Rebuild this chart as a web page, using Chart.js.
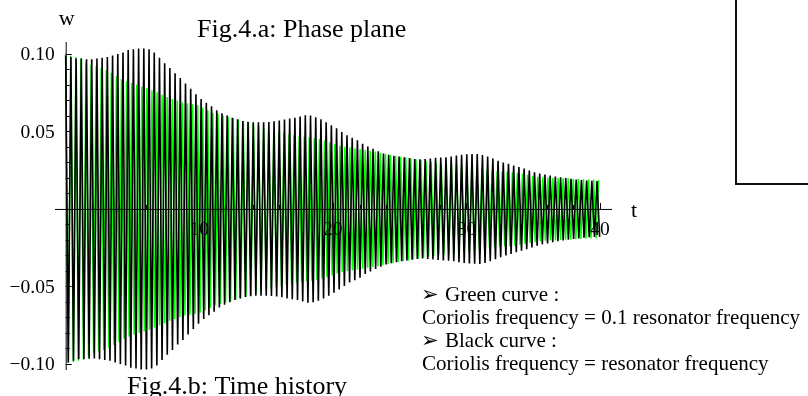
<!DOCTYPE html>
<html>
<head>
<meta charset="utf-8">
<script src="https://cdn.jsdelivr.net/npm/chart.js@4"></script>
<style>
  html, body { margin: 0; padding: 0; background: #fff; }
</style>
</head>
<body>
<canvas id="chart" width="808" height="396"></canvas>
<script>
// period of one oscillation (t units) and peak amplitude of each cycle
const blackPeriod = 0.39;
const greenPeriod = 0.38;

const blackPeaks = [
  0.099, 0.098, 0.097, 0.097, 0.0966, 0.0965, 0.097, 0.0975, 0.098, 0.099,
  0.100, 0.101, 0.1025, 0.103, 0.1035, 0.1035, 0.103, 0.101, 0.0975, 0.094,
  0.091, 0.0875, 0.0845, 0.081, 0.0775, 0.074, 0.071, 0.0685, 0.0663, 0.0636,
  0.0618, 0.0602, 0.0588, 0.0578, 0.0568, 0.0563, 0.056, 0.056, 0.056, 0.0561,
  0.0565, 0.057, 0.0577, 0.0583, 0.0588, 0.0597, 0.0605, 0.0602, 0.0592, 0.0578,
  0.056, 0.054, 0.052, 0.0497, 0.0475, 0.046, 0.0443, 0.042, 0.0403, 0.0388,
  0.0372, 0.0358, 0.035, 0.0343, 0.0338, 0.0333, 0.0328, 0.0322, 0.032, 0.0322,
  0.0326, 0.033, 0.0332, 0.0334, 0.0338, 0.0344, 0.0349, 0.0352, 0.0354, 0.0355,
  0.0348, 0.0338, 0.0325, 0.0311, 0.030, 0.0291, 0.028, 0.027, 0.026, 0.0248,
  0.0237, 0.0228, 0.0222, 0.0215, 0.0209, 0.0204, 0.0199, 0.0194, 0.019, 0.0186,
  0.0183, 0.0181, 0.018
];

const greenPeaks = [
  0.099, 0.0988, 0.098, 0.097, 0.095, 0.093, 0.092, 0.091, 0.0895, 0.0878,
  0.0858, 0.0838, 0.0824, 0.0812, 0.0801, 0.079, 0.078, 0.0766, 0.0752, 0.0737,
  0.0722, 0.071, 0.0699, 0.0688, 0.0682, 0.0676, 0.067, 0.0653, 0.0637, 0.0621,
  0.0612, 0.0603, 0.0595, 0.0586, 0.0577, 0.0568, 0.0559, 0.0546, 0.0534, 0.0521,
  0.0513, 0.0505, 0.0498, 0.049, 0.0483, 0.0476, 0.0472, 0.0467, 0.0463, 0.0458,
  0.0451, 0.0441, 0.0429, 0.0417, 0.0407, 0.0401, 0.0396, 0.039, 0.0385, 0.038,
  0.0375, 0.037, 0.0363, 0.0356, 0.0349, 0.0342, 0.0337, 0.0332, 0.0326, 0.032,
  0.0315, 0.0309, 0.0302, 0.0298, 0.0295, 0.0293, 0.029, 0.0285, 0.0279, 0.0273,
  0.0268, 0.0264, 0.0259, 0.0254, 0.0249, 0.0245, 0.0242, 0.024, 0.0237, 0.0232,
  0.0226, 0.022, 0.0214, 0.0208, 0.0205, 0.0203, 0.0201, 0.02, 0.0199, 0.0197,
  0.0195, 0.0193, 0.0192, 0.019, 0.0189, 0.0187
];

const xTickLabels = [10, 20, 30, 40];
const yTickValues = [0.10, 0.05, -0.05, -0.10];
const yTickLabels = ['0.10', '0.05', '\u22120.05', '\u22120.10'];

const T_END = 40;

function buildSeries(peaks, period) {
  const pts = [];
  peaks.forEach((a, i) => {
    const t = i * period;
    pts.push({ x: t, y: a });
    if (t + period / 2 <= T_END) pts.push({ x: t + period / 2, y: -a });
  });
  return pts;
}

const serif = '"Liberation Serif", "Times New Roman", serif';

const axesPlugin = {
  id: 'mathAxes',
  afterDatasetsDraw(chart) {
    const { ctx, chartArea: area, scales: { x, y } } = chart;
    const x0 = x.getPixelForValue(0);
    const y0 = y.getPixelForValue(0);
    ctx.save();
    ctx.strokeStyle = '#000';
    ctx.lineWidth = 1;

    // axis lines
    ctx.beginPath();
    ctx.moveTo(area.left, y0 + 0.5);
    ctx.lineTo(area.right, y0 + 0.5);
    ctx.moveTo(x0 + 0.5, area.top);
    ctx.lineTo(x0 + 0.5, area.bottom);
    ctx.stroke();

    // x ticks every 2, long ones at labels
    ctx.beginPath();
    for (let t = 2; t <= 40; t += 2) {
      const px = Math.round(x.getPixelForValue(t)) + 0.5;
      const len = t % 10 === 0 ? 6 : 4;
      ctx.moveTo(px, y0);
      ctx.lineTo(px, y0 - len);
    }
    // y ticks every 0.01
    for (let k = -10; k <= 10; k++) {
      if (k === 0) continue;
      const py = Math.round(y.getPixelForValue(k / 100)) + 0.5;
      const len = k % 5 === 0 ? 6 : 4;
      ctx.moveTo(x0, py);
      ctx.lineTo(x0 + len, py);
    }
    ctx.stroke();

    // tick labels
    ctx.fillStyle = '#000';
    ctx.font = '19.5px ' + serif;
    ctx.textAlign = 'center';
    ctx.textBaseline = 'alphabetic';
    xTickLabels.forEach(v => ctx.fillText(String(v), x.getPixelForValue(v), y0 + 26));
    ctx.textAlign = 'right';
    ctx.textBaseline = 'middle';
    yTickValues.forEach((v, i) => ctx.fillText(yTickLabels[i], x0 - 11, y.getPixelForValue(v) + 1));

    // axis names
    ctx.font = '22px ' + serif;
    ctx.textAlign = 'center';
    ctx.textBaseline = 'alphabetic';
    ctx.fillText('w', x0 + 1, 25);
    ctx.textAlign = 'left';
    ctx.fillText('t', area.right + 19, y0 + 8);

    // captions
    ctx.font = '26px ' + serif;
    ctx.fillText('Fig.4.a: Phase plane', 197, 37);
    ctx.fillText('Fig.4.b: Time history', 127, 394);

    // notes
    const arrowFont = '21px "DejaVu Sans", sans-serif';
    const noteFont = '21px ' + serif;
    ctx.font = arrowFont;
    ctx.fillText('\u27A2', 421, 301);
    ctx.fillText('\u27A2', 421, 347);
    ctx.font = noteFont;
    ctx.fillText('Green curve :', 445, 301);
    ctx.fillText('Coriolis frequency = 0.1 resonator frequency', 422, 324);
    ctx.fillText('Black curve :', 445, 347);
    ctx.fillText('Coriolis frequency = resonator frequency', 422, 370);

    // corner of the neighbouring frame
    ctx.lineWidth = 2;
    ctx.strokeStyle = '#111';
    ctx.beginPath();
    ctx.moveTo(736, 0);
    ctx.lineTo(736, 184);
    ctx.lineTo(808, 184);
    ctx.stroke();
    ctx.restore();
  }
};

new Chart(document.getElementById('chart'), {
  type: 'line',
  data: {
    datasets: [
      {
        label: 'Black curve',
        data: buildSeries(blackPeaks, blackPeriod),
        borderColor: '#000',
        borderWidth: 1.6,
        pointRadius: 0,
        tension: 0
      },
      {
        label: 'Green curve',
        data: buildSeries(greenPeaks, greenPeriod),
        borderColor: 'rgb(0, 255, 0)',
        borderWidth: 1.5,
        pointRadius: 0,
        tension: 0
      }
    ]
  },
  options: {
    responsive: false,
    animation: false,
    devicePixelRatio: 1,
    layout: { padding: { left: 55, right: 196, top: 42, bottom: 26 } },
    plugins: { legend: { display: false }, tooltip: { enabled: false } },
    scales: {
      x: { type: 'linear', min: -0.8, max: 40.9, display: false },
      y: { type: 'linear', min: -0.1039, max: 0.1077, display: false }
    }
  },
  plugins: [axesPlugin]
});
</script>
</body>
</html>
